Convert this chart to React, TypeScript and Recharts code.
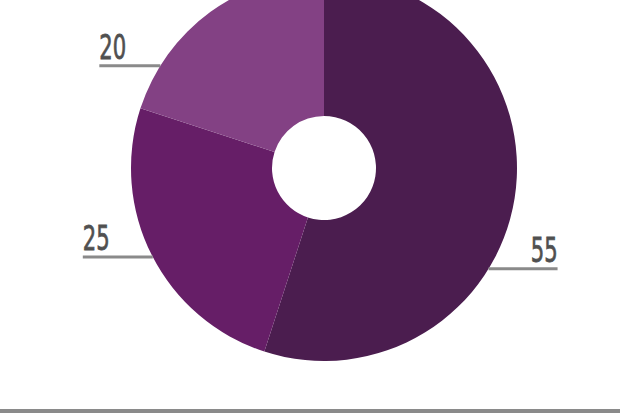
import { PieChart, Pie, Cell } from "recharts";

const shares = ["55", "25", "20"];
const values = [55, 25, 20];
const colors = ["#4b1d4f", "#661e67", "#834184"];
// where each callout leaves the ring, in degrees (counter-clockwise from 3 o'clock)
const calloutAngles = [-31.5, 207.5, 148];
const calloutLengths = [69, 70, 61];

const data = shares.map((name, i) => ({ name, value: values[i] }));

const RADIAN = Math.PI / 180;

const renderCallout = (props: any) => {
  const { cx, cy, outerRadius, index, value } = props;
  const a = calloutAngles[index] * RADIAN;
  const px = cx + outerRadius * Math.cos(a);
  const py = cy - outerRadius * Math.sin(a);
  const right = Math.cos(a) > 0;
  const endX = right ? px + calloutLengths[index] : px - calloutLengths[index];
  return (
    <g key={`callout-${index}`}>
      <line x1={endX} y1={py} x2={px} y2={py} stroke="#8a8a8a" strokeWidth={3} />
      {/* narrow the glyphs, the original uses a condensed face */}
      <text
        transform={`translate(${endX},${py - 7}) scale(0.64,1)`}
        x={0}
        y={0}
        textAnchor={right ? "end" : "start"}
        fill="#505050"
        stroke="#505050"
        strokeWidth={0.8}
        fontSize={33}
        fontFamily="'DejaVu Sans', sans-serif"
      >
        {value}
      </text>
    </g>
  );
};

export default function App() {
  return (
    <div style={{ position: "absolute", left: 0, top: 0, width: 620, height: 413, background: "#fff" }}>
      <PieChart width={620} height={413} margin={{ top: 0, right: 0, bottom: 0, left: 0 }}>
        <Pie
          data={data}
          dataKey="value"
          nameKey="name"
          cx={324}
          cy={168}
          innerRadius={52}
          outerRadius={193}
          startAngle={90}
          endAngle={-270}
          stroke="none"
          labelLine={false}
          label={renderCallout}
          isAnimationActive={false}
        >
          {data.map((d, i) => (
            <Cell key={d.name} fill={colors[i]} />
          ))}
        </Pie>
      </PieChart>
      <div style={{ position: "absolute", left: 0, top: 409, width: 620, height: 4, background: "#8a8a8a" }} />
    </div>
  );
}
